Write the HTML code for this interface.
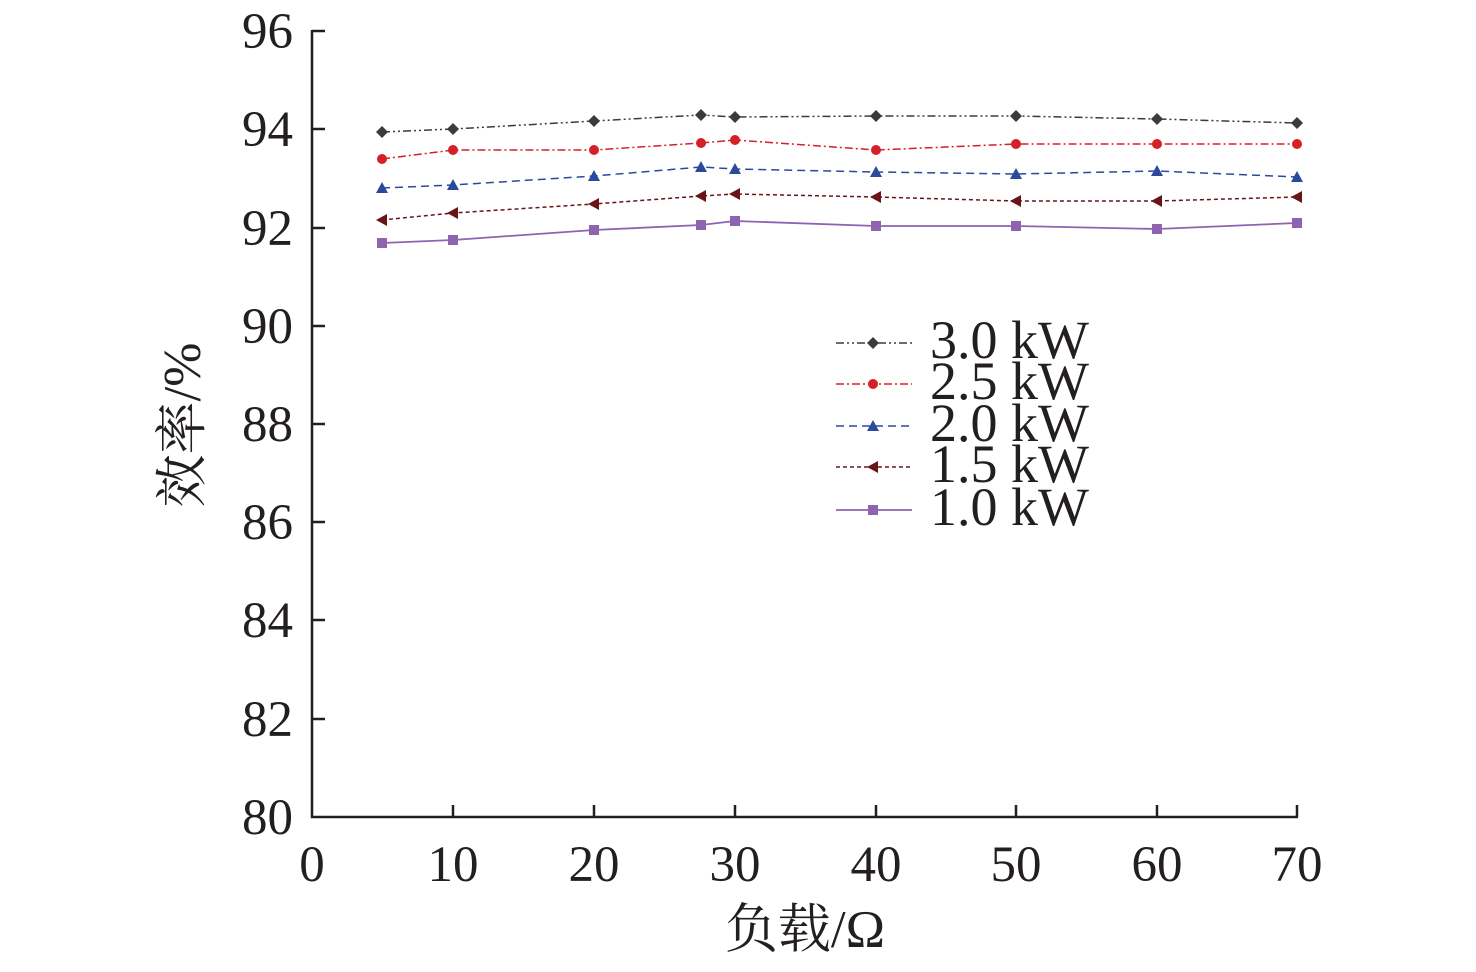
<!DOCTYPE html>
<html><head><meta charset="utf-8"><style>
html,body{margin:0;padding:0;background:#fff;}
svg text{font-family:"Liberation Serif","Noto Serif CJK SC",serif;fill:#231f20;}
</style></head><body>
<svg width="1476" height="967" viewBox="0 0 1476 967" xmlns="http://www.w3.org/2000/svg">
<g stroke="#231f20" stroke-width="2.5" fill="none">
<line x1="312" y1="30" x2="312" y2="818"/>
<line x1="311" y1="817" x2="1298" y2="817"/>
<line x1="312" y1="31" x2="325" y2="31"/>
<line x1="312" y1="129" x2="325" y2="129"/>
<line x1="312" y1="228" x2="325" y2="228"/>
<line x1="312" y1="326" x2="325" y2="326"/>
<line x1="312" y1="424" x2="325" y2="424"/>
<line x1="312" y1="522" x2="325" y2="522"/>
<line x1="312" y1="620" x2="325" y2="620"/>
<line x1="312" y1="719" x2="325" y2="719"/>
<line x1="453" y1="817" x2="453" y2="805"/>
<line x1="594" y1="817" x2="594" y2="805"/>
<line x1="735" y1="817" x2="735" y2="805"/>
<line x1="876" y1="817" x2="876" y2="805"/>
<line x1="1016" y1="817" x2="1016" y2="805"/>
<line x1="1157" y1="817" x2="1157" y2="805"/>
<line x1="1297" y1="817" x2="1297" y2="805"/>
</g>
<g font-size="51" text-anchor="end">
<text x="293" y="48">96</text><text x="293" y="146">94</text><text x="293" y="245">92</text>
<text x="293" y="343">90</text><text x="293" y="441">88</text><text x="293" y="539">86</text>
<text x="293" y="637">84</text><text x="293" y="736">82</text><text x="293" y="834">80</text>
</g>
<g font-size="51" text-anchor="middle">
<text x="312" y="881">0</text><text x="453" y="881">10</text><text x="594" y="881">20</text>
<text x="735" y="881">30</text><text x="876" y="881">40</text><text x="1016" y="881">50</text>
<text x="1157" y="881">60</text><text x="1297" y="881">70</text>
<text x="805" y="947" font-size="53">负载/Ω</text>
</g>
<text font-size="53" text-anchor="middle" transform="translate(200,425) rotate(-90)">效率/%</text>

<polyline fill="none" stroke="#3b3b3b" stroke-width="1.5" stroke-dasharray="8,3,2,3,2,3" points="382,132 453,129 594,121 701,115 735,117 876,116 1016,116 1157,119 1297,123"/>
<polyline fill="none" stroke="#d42027" stroke-width="1.5" stroke-dasharray="8,3,2,3" points="382,159 453,150 594,150 701,143 735,140 876,150 1016,144 1157,144 1297,144"/>
<polyline fill="none" stroke="#2b4a9c" stroke-width="1.5" stroke-dasharray="8,5" points="382,188 453,185 594,176 701,167 735,169 876,172 1016,174 1157,171 1297,177"/>
<polyline fill="none" stroke="#6b1416" stroke-width="1.5" stroke-dasharray="4,3" points="382,220 453,213 594,204 701,196 735,194 876,197 1016,201 1157,201 1297,197"/>
<polyline fill="none" stroke="#8e63b0" stroke-width="1.8" points="382,243 453,240 594,230 701,225 735,221 876,226 1016,226 1157,229 1297,223"/>

<g fill="#3b3b3b">
<path d="M0,-6 L6,0 L0,6 L-6,0Z" transform="translate(382,132)"/>
<path d="M0,-6 L6,0 L0,6 L-6,0Z" transform="translate(453,129)"/>
<path d="M0,-6 L6,0 L0,6 L-6,0Z" transform="translate(594,121)"/>
<path d="M0,-6 L6,0 L0,6 L-6,0Z" transform="translate(701,115)"/>
<path d="M0,-6 L6,0 L0,6 L-6,0Z" transform="translate(735,117)"/>
<path d="M0,-6 L6,0 L0,6 L-6,0Z" transform="translate(876,116)"/>
<path d="M0,-6 L6,0 L0,6 L-6,0Z" transform="translate(1016,116)"/>
<path d="M0,-6 L6,0 L0,6 L-6,0Z" transform="translate(1157,119)"/>
<path d="M0,-6 L6,0 L0,6 L-6,0Z" transform="translate(1297,123)"/>
<path d="M0,-6 L6,0 L0,6 L-6,0Z" transform="translate(873,343)"/>
</g>
<g fill="#d42027">
<circle cx="382" cy="159" r="5"/><circle cx="453" cy="150" r="5"/><circle cx="594" cy="150" r="5"/>
<circle cx="701" cy="143" r="5"/><circle cx="735" cy="140" r="5"/><circle cx="876" cy="150" r="5"/>
<circle cx="1016" cy="144" r="5"/><circle cx="1157" cy="144" r="5"/><circle cx="1297" cy="144" r="5"/>
<circle cx="873" cy="384" r="5"/>
</g>
<g fill="#2b4a9c">
<path d="M0,-6 L6,5 L-6,5Z" transform="translate(382,188)"/>
<path d="M0,-6 L6,5 L-6,5Z" transform="translate(453,185)"/>
<path d="M0,-6 L6,5 L-6,5Z" transform="translate(594,176)"/>
<path d="M0,-6 L6,5 L-6,5Z" transform="translate(701,167)"/>
<path d="M0,-6 L6,5 L-6,5Z" transform="translate(735,169)"/>
<path d="M0,-6 L6,5 L-6,5Z" transform="translate(876,172)"/>
<path d="M0,-6 L6,5 L-6,5Z" transform="translate(1016,174)"/>
<path d="M0,-6 L6,5 L-6,5Z" transform="translate(1157,171)"/>
<path d="M0,-6 L6,5 L-6,5Z" transform="translate(1297,177)"/>
<path d="M0,-6 L6,5 L-6,5Z" transform="translate(873,426)"/>
</g>
<g fill="#6b1416">
<path d="M-6,0 L5,-6 L5,6Z" transform="translate(382,220)"/>
<path d="M-6,0 L5,-6 L5,6Z" transform="translate(453,213)"/>
<path d="M-6,0 L5,-6 L5,6Z" transform="translate(594,204)"/>
<path d="M-6,0 L5,-6 L5,6Z" transform="translate(701,196)"/>
<path d="M-6,0 L5,-6 L5,6Z" transform="translate(735,194)"/>
<path d="M-6,0 L5,-6 L5,6Z" transform="translate(876,197)"/>
<path d="M-6,0 L5,-6 L5,6Z" transform="translate(1016,201)"/>
<path d="M-6,0 L5,-6 L5,6Z" transform="translate(1157,201)"/>
<path d="M-6,0 L5,-6 L5,6Z" transform="translate(1297,197)"/>
<path d="M-6,0 L5,-6 L5,6Z" transform="translate(873,467)"/>
</g>
<g fill="#8e63b0">
<rect x="377" y="238" width="10" height="10"/><rect x="448" y="235" width="10" height="10"/>
<rect x="589" y="225" width="10" height="10"/><rect x="696" y="220" width="10" height="10"/>
<rect x="730" y="216" width="10" height="10"/><rect x="871" y="221" width="10" height="10"/>
<rect x="1011" y="221" width="10" height="10"/><rect x="1152" y="224" width="10" height="10"/>
<rect x="1292" y="218" width="10" height="10"/><rect x="868" y="505" width="10" height="10"/>
</g>
<line x1="836" y1="343" x2="912" y2="343" stroke="#3b3b3b" stroke-width="1.5" stroke-dasharray="8,3,2,3,2,3"/>
<line x1="836" y1="384" x2="912" y2="384" stroke="#d42027" stroke-width="1.5" stroke-dasharray="8,3,2,3"/>
<line x1="836" y1="426" x2="912" y2="426" stroke="#2b4a9c" stroke-width="1.5" stroke-dasharray="8,5"/>
<line x1="836" y1="467" x2="912" y2="467" stroke="#6b1416" stroke-width="1.5" stroke-dasharray="4,3"/>
<line x1="836" y1="510" x2="912" y2="510" stroke="#8e63b0" stroke-width="1.8"/>
<g font-size="54">
<text x="930" y="358">3.0 kW</text>
<text x="930" y="399">2.5 kW</text>
<text x="930" y="441">2.0 kW</text>
<text x="930" y="482">1.5 kW</text>
<text x="930" y="525">1.0 kW</text>
</g>
</svg>
</body></html>
